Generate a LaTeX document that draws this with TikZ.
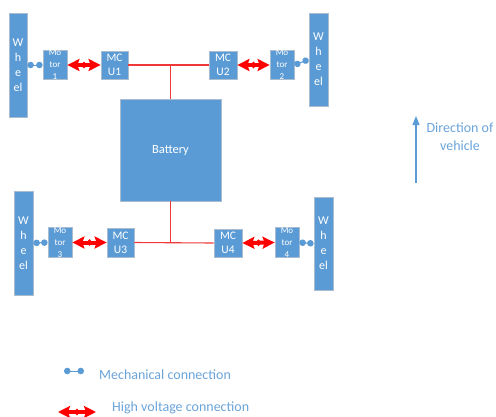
\documentclass[tikz,border=0pt]{standalone}
\usepackage{fontspec}
\setmainfont{Carlito}
\usetikzlibrary{arrows.meta}
\definecolor{boxblue}{HTML}{5B9BD5}
\definecolor{edgegray}{HTML}{A9BCD0}
\definecolor{hvred}{HTML}{FF0000}
\definecolor{busred}{HTML}{F03838}
\definecolor{lblblue}{HTML}{6AA3D9}

\begin{document}
\begin{tikzpicture}[x=1pt,y=-1pt,
  part/.style={draw=edgegray, line width=0.8pt, fill=boxblue, text=white,
               inner sep=0pt, align=center},
  wheel/.style={part, font=\fontsize{12}{15}\selectfont},
  motor/.style={part, minimum width=24pt, minimum height=28pt,
                font=\fontsize{9}{12}\selectfont},
  mcu/.style={part, minimum width=27pt, minimum height=28pt,
              font=\fontsize{11.5}{14}\selectfont},
  mech/.style={draw=boxblue, line width=1pt,
               {Circle[length=6.5pt,width=6.5pt]}-{Circle[length=6.5pt,width=6.5pt]}},
  hv/.style={draw=hvred, line width=4pt,
             {Stealth[length=12pt,width=12pt,inset=2pt]}-{Stealth[length=12pt,width=12pt,inset=2pt]}},
  hvknot/.style={fill=hvred},
  bus/.style={draw=busred, line width=1.1pt},
  lbl/.style={text=lblblue, font=\fontsize{14}{18}\selectfont, inner sep=0pt, align=center}
]
\useasboundingbox (0,0) rectangle (496,416);

% wheels
\node[wheel, minimum width=18pt, minimum height=104pt] (w1) at (18,65) {W\\h\\e\\el};
\node[wheel, minimum width=19pt, minimum height=93pt] (w2) at (318.5,59.5) {W\\h\\e\\el};
\node[wheel, minimum width=19pt, minimum height=104pt] (w3) at (23.5,243) {W\\h\\e\\el};
\node[wheel, minimum width=19pt, minimum height=93pt] (w4) at (323.5,243.5) {W\\h\\e\\el};

% motors
\node[motor] (m1) at (55,65) {Mo\\tor\\1};
\node[motor] (m2) at (282,65) {Mo\\tor\\2};
\node[motor, minimum height=29pt] (m3) at (60,242.5) {Mo\\tor\\3};
\node[motor, minimum height=29pt] (m4) at (287,242.5) {Mo\\tor\\4};

% motor controllers
\node[mcu] (c1) at (114.5,65) {MC\\U1};
\node[mcu, minimum width=28pt] (c2) at (223,65) {MC\\U2};
\node[mcu, minimum height=29pt] (c3) at (120.5,242.5) {MC\\U3};
\node[mcu, minimum width=28pt] (c4) at (228,243) {MC\\U4};

% battery
\node[part, minimum width=101pt, minimum height=102pt,
      font=\fontsize{12.5}{15}\selectfont] (bat) at (170.5,150) {Battery};

% high voltage bus
\draw[bus] (c1.east) -- (c2.west);
\draw[bus] (bat.north) -- (bat.north |- c1.east);
\draw[bus] (c3.east) -- (c4.west);
\draw[bus] (bat.south) -- (bat.south |- c3.east);

% mechanical links wheel--motor
\draw[mech] (w1.east) -- (m1.west);
\draw[mech] (m2.east) -- (w2.west);
\draw[mech] (w3.east) -- (m3.west);
\draw[mech] (m4.east) -- (w4.west);

% high voltage links motor--controller, with the small joint in the middle
\draw[hv] (m1.east) -- coordinate[midway] (k1) (c1.west);
\draw[hv] (c2.east) -- coordinate[midway] (k2) (m2.west);
\draw[hv] (m3.east) -- coordinate[midway] (k3) (c3.west);
\draw[hv] (c4.east) -- coordinate[midway] (k4) (m4.west);
\foreach \k in {k1,k2,k3,k4}
  \fill[hvknot] (\k) ++(-3,0) -- ++(3,-3.5) -- ++(3,3.5) -- ++(-3,3.5) -- cycle;

% direction of travel
\coordinate (dirfoot) at (416,183);
\coordinate (dirtip) at (416,116);
\draw[draw=boxblue, line width=1.3pt, -{Triangle[length=9pt,width=7pt]}] (dirfoot) -- (dirtip);
\node[lbl] (dirlbl) at (460,137) {Direction of\\vehicle};

% legend
\coordinate (mechA) at (64,371);
\coordinate (mechB) at (84,371);
\draw[mech] (mechA) -- (mechB);
\node[lbl, anchor=west] (mechlbl) at (99,375) {Mechanical connection};

\coordinate (hvA) at (58,412);
\coordinate (hvB) at (96,412);
\draw[hv] (hvA) -- coordinate[midway] (k5) (hvB);
\fill[hvknot] (k5) ++(-3,0) -- ++(3,-3.5) -- ++(3,3.5) -- ++(-3,3.5) -- cycle;
\node[lbl, anchor=west] (hvlbl) at (112,408) {High voltage connection};
\end{tikzpicture}
\end{document}
